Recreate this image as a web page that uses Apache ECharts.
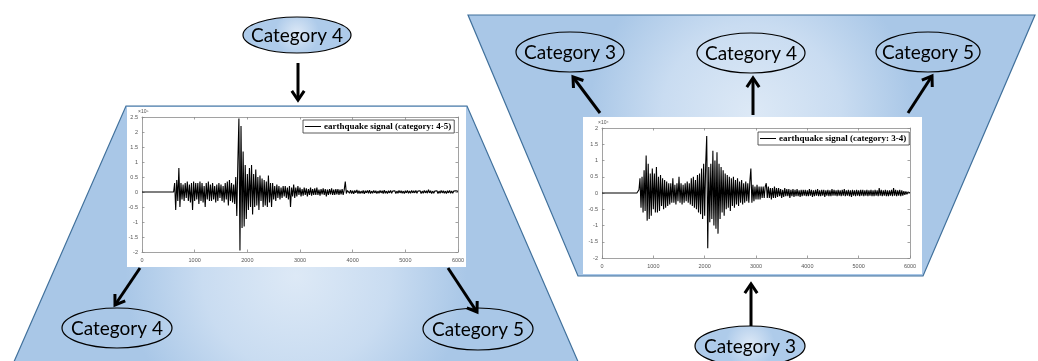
<!DOCTYPE html>
<html><head><meta charset="utf-8">
<script src="https://cdn.jsdelivr.net/npm/echarts@6/dist/echarts.min.js"></script>
<style>html,body{margin:0;padding:0;background:#fff}#c{width:1038px;height:361px}</style>
</head><body><div id="c"></div>
<script>
// ---- DATA ----
const sampleStep = 20; // samples between listed values
const xTicks = [0, 1000, 2000, 3000, 4000, 5000, 6000];
const leftName = 'earthquake signal (category: 4-5)';
const rightName = 'earthquake signal (category: 3-4)';
const leftExponent = '×10⁵';
const rightExponent = '×10⁴';
// left signal, units of 1e5
const leftSignal = [
0,0,0,0,0,0,0,0,0,0, 0,0,0,0,0,0,0,0,0,0, 0,0,0,0,0,0,0,0,0,0,
0,0.3,-0.6,0.4,-0.3,0.8,-0.5,0.3,-0.25,0.25,
-0.3,0.3,-0.2,0.35,-0.3,0.25,-0.35,0.3,-0.6,0.35,
-0.3,0.3,-0.25,0.3,-0.4,0.35,-0.3,0.3,-0.35,0.2,
-0.5,0.3,-0.25,0.35,-0.3,0.25,-0.3,0.3,-0.25,0.2,
-0.35,0.25,-0.3,0.3,-0.2,0.25,-0.3,0.2,-0.35,0.3,
-0.25,0.35,-0.45,0.4,-0.3,0.3,-0.35,0.25,-0.4,0.5,
-0.8,1.0,2.45,-1.95,2.2,-1.2,1.35,-1.15,0.9,-0.9,
0.6,-0.6,0.8,-0.5,0.9,-0.75,0.6,-0.5,0.75,-0.45,
0.5,-0.6,0.55,-0.3,0.45,-0.5,0.4,-0.45,0.35,-0.5,
0.55,-0.35,0.3,-0.5,0.3,-0.25,0.2,-0.3,0.25,-0.2,
0.2,-0.25,0.15,-0.2,0.2,-0.15,0.2,-0.2,0.15,-0.25,
0.2,-0.5,0.15,-0.15,0.25,-0.2,0.15,-0.15,0.2,-0.1,
0.15,-0.15,0.1,-0.12,0.15,-0.1,0.12,-0.15,0.1,-0.1,
0.15,-0.12,0.1,-0.1,0.12,-0.1,0.15,-0.1,0.08,-0.12,
0.1,-0.08,0.12,-0.1,0.1,-0.15,0.08,-0.1,0.1,-0.08,
0.12,-0.1,0.08,-0.1,0.1,-0.08,0.1,-0.1,0.08,-0.08,
0.1,-0.1,0.08,0.35,-0.05,0.05,
0.05,-0.04,0.06,-0.05,0.04,-0.06,0.05,-0.03,0.07,-0.05,
0.04,-0.05,0.03,-0.04,0.05,-0.06,0.04,-0.03,0.05,-0.04,
0.06,-0.05,0.03,-0.04,0.05,-0.03,0.04,-0.05,0.03,-0.04,
0.05,-0.03,0.04,-0.05,0.06,-0.04,0.03,-0.05,0.04,-0.03,
0.05,-0.04,0.03,-0.03,0.04,-0.05,0.03,-0.04,0.05,-0.03,
0.04,-0.04,0.03,-0.05,0.04,-0.03,0.05,-0.04,0.03,-0.04,
0.05,-0.03,0.04,-0.03,0.05,-0.04,0.03,-0.03,0.04,-0.05,
0.03,-0.04,0.05,-0.03,0.04,-0.04,0.08,-0.03,0.04,-0.05,
0.03,-0.04,0.03,-0.03,0.04,-0.05,0.03,-0.04,0.05,-0.03,
0.04,-0.04,0.03,-0.05,0.04,-0.03,0.05,-0.04,0.03,-0.04,
0.03,-0.03,0.04,-0.02,0.02
];
// right signal, units of 1e4
const rightSignal = [
0,0,0,0,0,0,0,0,0,0, 0,0,0,0,0,0,0,0,0,0, 0,0,0,0,0,0,0,0,0,0, 0,0,0,0,0,0,
0.1,0.45,-0.45,0.5,
-0.6,0.7,-0.55,1.15,-0.85,0.9,-0.8,0.6,-0.7,0.75,
-0.5,0.6,-0.6,0.8,-0.6,0.5,-0.55,0.55,-0.4,0.45,
-0.5,0.4,-0.45,0.35,-0.4,0.3,-0.35,0.3,-0.3,0.45,
-0.3,0.25,-0.35,0.3,-0.25,0.5,-0.3,0.3,-0.35,0.25,
-0.3,0.3,-0.25,0.35,-0.3,0.3,-0.35,0.45,-0.4,0.5,
-0.45,0.4,-0.5,0.55,-0.6,0.6,-0.65,0.75,-0.8,0.9,
-0.7,0.9,1.75,-1.7,0.8,-0.9,0.9,-0.8,1.3,-1.0,
1.0,-1.1,1.25,-1.25,0.9,-0.8,0.8,-0.6,0.7,-0.7,
0.6,-0.5,0.55,-0.45,0.5,-0.55,0.45,-0.4,0.5,-0.45,
0.4,-0.35,0.45,-0.4,0.35,-0.3,0.4,-0.35,0.3,-0.3,
0.35,-0.25,0.3,-0.3,0.35,0.75,-0.3,0.25,-0.25,0.2,
-0.2,0.25,-0.2,0.2,-0.2,0.2,-0.15,0.2,-0.15,0.2,
0.3,-0.15,0.2,-0.15,0.15,-0.2,0.15,-0.15,0.2,-0.15,0.15,
-0.12,0.15,-0.1,0.12,-0.15,0.1,-0.12,0.15,-0.1,0.12,
-0.1,0.12,-0.15,0.1,-0.1,0.12,-0.12,0.1,-0.1,0.12,
-0.1,0.08,-0.12,0.1,-0.1,
0.1,-0.08,0.1,-0.1,0.08,-0.1,0.12,-0.08,0.1,-0.12,
0.08,-0.1,0.1,-0.08,0.12,-0.1,0.08,-0.1,0.1,-0.08,
0.1,-0.12,0.08,-0.08,0.1,-0.1,0.08,-0.1,0.12,-0.08,
0.1,-0.08,0.08,-0.1,0.1,-0.08,0.08,-0.1,0.1,-0.08,
0.12,-0.1,0.08,-0.08,0.1,-0.1,0.08,-0.12,0.1,-0.08,
0.08,-0.1,0.1,-0.08,0.08,-0.1,0.1,-0.08,0.1,-0.1,
0.08,-0.08,0.1,-0.1,0.08,-0.08,0.1,-0.1,0.08,-0.1,
0.1,-0.08,0.08,-0.1,0.15,-0.08,0.1,-0.1,0.08,-0.08,
0.1,-0.1,0.08,-0.1,0.08,-0.08,0.1,-0.1,0.15,-0.08,
0.1,-0.1,0.08,-0.08,0.1,-0.1,0.08,-0.08,0.06,-0.06,
0.05,-0.04,0.03,-0.02,0.01
];
// diagram labels
const leftTop = 'Category 4', leftBL = 'Category 4', leftBR = 'Category 5';
const rightTops = ['Category 3', 'Category 4', 'Category 5'], rightBottom = 'Category 3';

// ---- CHART ----
const chart = echarts.init(document.getElementById('c'), null, {renderer: 'canvas'});
const toPairs = arr => arr.map((v, i) => [i * sampleStep, v]);
const G = echarts.graphic;

function trapFill(cx, cy) {
  return new G.RadialGradient(cx, cy, 0.62, [
    {offset: 0, color: '#dde9f6'}, {offset: 0.55, color: '#c9dcf1'}, {offset: 1, color: '#a9c7e7'}]);
}
function ellFill() {
  return new G.RadialGradient(0.5, 0.45, 0.6, [
    {offset: 0, color: '#dce8f6'}, {offset: 1, color: '#aecbea'}]);
}
function ellipse(cx, cy, rx, ry, text, filled) {
  return [{type: 'ellipse', z: 20, shape: {cx, cy, rx, ry},
           style: {fill: filled ? ellFill() : 'none', stroke: '#000', lineWidth: 1.2}},
          {type: 'text', z: 21, x: cx, y: cy + 1,
           style: {text, font: '19px Lato', fill: '#000', align: 'center', verticalAlign: 'middle',
                   textAlign: 'center', textVerticalAlign: 'middle'}}];
}
function arrow(x1, y1, x2, y2) {
  const a = Math.atan2(y2 - y1, x2 - x1), L = 11, h = 0.6;
  const p1 = [x2 - L * Math.cos(a - h), y2 - L * Math.sin(a - h)];
  const p2 = [x2 - L * Math.cos(a + h), y2 - L * Math.sin(a + h)];
  return [{type: 'line', z: 20, shape: {x1, y1, x2, y2}, style: {stroke: '#000', lineWidth: 3}},
          {type: 'polyline', z: 20, shape: {points: [p1, [x2, y2], p2]},
           style: {stroke: '#000', lineWidth: 3, fill: 'none', lineJoin: 'miter'}}];
}

const graphics = [
  {type: 'polygon', z: -10, shape: {points: [[126,106],[467,106],[586,380],[6,380]]},
   style: {fill: trapFill(0.5, 0.62), stroke: '#41719c', lineWidth: 1.2}},
  {type: 'polygon', z: -10, shape: {points: [[468,15],[1035,15],[923,276],[578,276]]},
   style: {fill: trapFill(0.5, 0.38), stroke: '#41719c', lineWidth: 1.2}},
  {type: 'rect', z: -5, shape: {x: 127, y: 107, width: 339, height: 160}, style: {fill: '#fff'}},
  {type: 'rect', z: -5, shape: {x: 583, y: 117, width: 339, height: 157}, style: {fill: '#fff'}},
  ...ellipse(297, 35, 54, 18, leftTop, true),
  ...arrow(298, 63, 298, 100),
  ...arrow(140, 268, 115, 305),
  ...ellipse(117, 328, 55, 20, leftBL, false),
  ...arrow(448, 268, 477, 312),
  ...ellipse(478, 329, 55, 21, leftBR, false),
  ...ellipse(570, 52, 54, 20, rightTops[0], false),
  ...arrow(600, 113, 573, 77),
  ...ellipse(751, 53, 54, 20, rightTops[1], false),
  ...arrow(753, 115, 753, 78),
  ...ellipse(928, 52, 52, 20, rightTops[2], false),
  ...arrow(908, 113, 932, 76),
  ...arrow(751, 328, 751, 284),
  ...ellipse(750, 346, 55, 20, rightBottom, true)
];

const axisCol = '#8a8a8a';
function xAx(gi, pos, labels) {
  return {type: 'value', gridIndex: gi, position: pos, min: 0, max: 6000, interval: 1000,
    axisLine: {show: true, onZero: false, lineStyle: {color: axisCol, width: 0.8}},
    axisTick: {show: true, inside: true, length: 2.5, lineStyle: {color: axisCol, width: 0.8}},
    axisLabel: {show: labels, fontSize: 5.5, color: '#555', margin: 5, fontFamily: 'Liberation Sans',
                formatter: v => String(v)},
    splitLine: {show: false}};
}
function yAx(gi, pos, labels, min, max, name) {
  return {type: 'value', gridIndex: gi, position: pos, min, max, interval: 0.5,
    name: labels ? name : '', nameLocation: 'end', nameGap: 2,
    nameTextStyle: {fontSize: 5, color: '#555', align: 'left', padding: [0, 0, 0, -4]},
    axisLine: {show: true, onZero: false, lineStyle: {color: axisCol, width: 0.8}},
    axisTick: {show: true, inside: true, length: 2.5, lineStyle: {color: axisCol, width: 0.8}},
    axisLabel: {show: labels, fontSize: 5.5, color: '#555', margin: 4, fontFamily: 'Liberation Sans',
                formatter: v => String(v)},
    splitLine: {show: false}};
}
function legend(name, left, top) {
  return {data: [name], left, top, orient: 'horizontal', selectedMode: false,
    icon: 'rect', itemWidth: 16, itemHeight: 1, itemGap: 0, padding: [2, 3, 2, 2],
    borderColor: '#333', borderWidth: 0.8, backgroundColor: '#fff', z: 10,
    textStyle: {fontFamily: 'Liberation Serif', fontWeight: 'bold', fontSize: 9, color: '#000', padding: [0, 0, 0, -2]}};
}

chart.setOption({
  animation: false,
  backgroundColor: '#fff',
  graphic: graphics,
  grid: [
    {left: 142, top: 117, width: 316, height: 135, show: false},
    {left: 602, top: 128, width: 308, height: 130, show: false}
  ],
  xAxis: [xAx(0, 'bottom', true), xAx(1, 'bottom', true), xAx(0, 'top', false), xAx(1, 'top', false)],
  yAxis: [yAx(0, 'left', true, -2, 2.5, leftExponent), yAx(1, 'left', true, -2, 2, rightExponent),
          yAx(0, 'right', false, -2, 2.5, ''), yAx(1, 'right', false, -2, 2, '')],
  legend: [legend(leftName, 303, 120), legend(rightName, 758, 132)],
  series: [
    {type: 'line', name: leftName, xAxisIndex: 0, yAxisIndex: 0, data: toPairs(leftSignal),
     showSymbol: false, color: '#000', lineStyle: {color: '#000', width: 1.1}},
    {type: 'line', name: rightName, xAxisIndex: 1, yAxisIndex: 1, data: toPairs(rightSignal),
     showSymbol: false, color: '#000', lineStyle: {color: '#000', width: 1.1}}
  ]
});
</script></body></html>
